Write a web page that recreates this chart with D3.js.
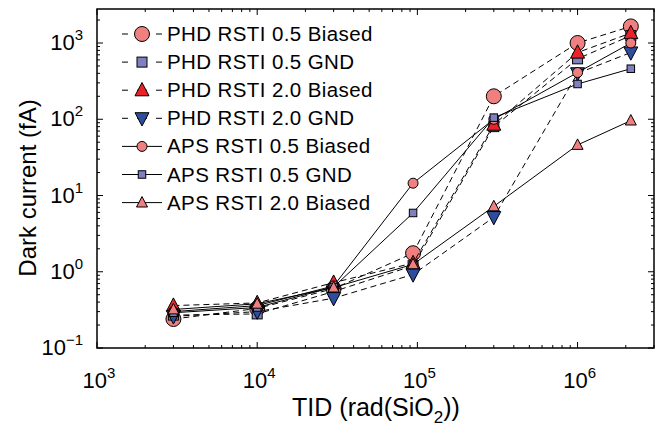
<!DOCTYPE html>
<html><head><meta charset="utf-8">
<script src="https://cdn.jsdelivr.net/npm/d3@7"></script>
<style>
body{margin:0;background:#fff;}
svg{display:block;font-family:"Liberation Sans",Arial,sans-serif;}
</style></head>
<body><svg id="c" width="667" height="426"></svg>
<script>
// ---- data ----
const dose = [3e3, 1e4, 3e4, 9.4e4, 3e5, 1e6, 2.15e6];
const phd05Biased = [0.24, 0.33, 0.60, 1.75, 200, 1000, 1650];
const phd05Gnd    = [0.27, 0.28, 0.55, 1.20, 80, 620, 1250];
const phd20Biased = [0.36, 0.39, 0.72, 1.30, 85, 750, 1350];
const phd20Gnd    = [0.26, 0.30, 0.45, 0.92, 5.2, 400, 750];
const aps05Biased = [0.30, 0.36, 0.65, 14.5, 100, 410, 1000];
const aps05Gnd    = [0.29, 0.34, 0.63, 5.9, 105, 290, 460];
const aps20Biased = [0.32, 0.38, 0.62, 1.25, 7.2, 46, 96];
const seriesNames = ["PHD RSTI 0.5 Biased","PHD RSTI 0.5 GND","PHD RSTI 2.0 Biased","PHD RSTI 2.0 GND",
  "APS RSTI 0.5 Biased","APS RSTI 0.5 GND","APS RSTI 2.0 Biased"];
const xTickExp = [3, 4, 5, 6];
const yTickExp = [-1, 0, 1, 2, 3];

// ---- styles ----
const coral = "#f08080", slate = "#7f80bf", red = "#e8232a", blue = "#2e4d9e";
const series = [
  {name: seriesNames[0], v: phd05Biased, shape: "circle", size: 7.5, fill: coral, dash: "6,4"},
  {name: seriesNames[1], v: phd05Gnd, shape: "square", size: 10, fill: slate, dash: "6,4"},
  {name: seriesNames[2], v: phd20Biased, shape: "up", size: 14, fill: red, dash: "6,4"},
  {name: seriesNames[3], v: phd20Gnd, shape: "down", size: 14, fill: blue, dash: "6,4"},
  {name: seriesNames[4], v: aps05Biased, shape: "circle", size: 5, fill: coral, dash: null},
  {name: seriesNames[5], v: aps05Gnd, shape: "square", size: 7.5, fill: slate, dash: null},
  {name: seriesNames[6], v: aps20Biased, shape: "up", size: 11, fill: coral, dash: null}
];

const svg = d3.select("#c");
const L = 97, R = 654, T = 9, B = 348;
const x = d3.scaleLog().domain([1e3, 3e6]).range([L, R]);
const y = d3.scaleLog().domain([0.1, Math.pow(10, 3 + 34/76.25)]).range([B, T]);

// minor / major ticks inside, on all four sides
const g = svg.append("g");
function minorVals(dom) {
  const out = [];
  for (let e = Math.floor(Math.log10(dom[0])); e <= Math.ceil(Math.log10(dom[1])); e++)
    for (let m = 1; m <= 9; m++) { const v = m * Math.pow(10, e); if (v >= dom[0] * 0.999 && v <= dom[1] * 1.001) out.push({v, major: m === 1}); }
  return out;
}
minorVals(x.domain()).forEach(t => {
  const px = x(t.v), len = t.major ? 6 : 3;
  g.append("line").attr("x1", px).attr("x2", px).attr("y1", B).attr("y2", B - len).attr("stroke", "#000");
  g.append("line").attr("x1", px).attr("x2", px).attr("y1", T).attr("y2", T + len).attr("stroke", "#000");
});
minorVals(y.domain()).forEach(t => {
  const py = y(t.v), len = t.major ? 6 : 3;
  g.append("line").attr("y1", py).attr("y2", py).attr("x1", L).attr("x2", L + len).attr("stroke", "#000");
  g.append("line").attr("y1", py).attr("y2", py).attr("x1", R).attr("x2", R - len).attr("stroke", "#000");
});

// tick labels
xTickExp.forEach(e => {
  const t = svg.append("text").attr("x", x(Math.pow(10, e)) + 2).attr("y", 388).attr("text-anchor", "middle")
    .attr("font-size", 22).attr("fill", "#000");
  t.append("tspan").text("10");
  t.append("tspan").attr("dy", -10).attr("font-size", 15).text(e);
});
yTickExp.forEach(e => {
  const t = svg.append("text").attr("x", 83).attr("y", y(Math.pow(10, e)) + 7).attr("text-anchor", "end")
    .attr("font-size", 22).attr("fill", "#000");
  t.append("tspan").text("10");
  t.append("tspan").attr("dy", -10).attr("font-size", 15).text(e === -1 ? "\u22121" : e);
});

// axis labels
const xl = svg.append("text").attr("x", 376).attr("y", 416).attr("text-anchor", "middle").attr("font-size", 25);
xl.append("tspan").text("TID (rad(SiO");
xl.append("tspan").attr("dy", 7).attr("font-size", 17).text("2");
xl.append("tspan").attr("dy", -7).text("))");
svg.append("text").attr("transform", "translate(36,188) rotate(-90)").attr("text-anchor", "middle")
  .attr("font-size", 24).text("Dark current (fA)");

// markers
function marker(sel, s, cx, cy) {
  const r = s.size;
  let m;
  if (s.shape === "circle") m = sel.append("circle").attr("cx", cx).attr("cy", cy).attr("r", r);
  else if (s.shape === "square") m = sel.append("rect").attr("x", cx - r/2).attr("y", cy - r/2).attr("width", r).attr("height", r);
  else if (s.shape === "up") m = sel.append("path").attr("d", `M${cx},${cy - r*0.55}L${cx + r/2},${cy + r*0.4}L${cx - r/2},${cy + r*0.4}Z`);
  else m = sel.append("path").attr("d", `M${cx},${cy + r*0.55}L${cx + r/2},${cy - r*0.4}L${cx - r/2},${cy - r*0.4}Z`);
  m.attr("fill", s.fill).attr("stroke", "#000").attr("stroke-width", 1);
}

const line = d3.line().x(d => x(d[0])).y(d => y(d[1]));
const plot = svg.append("g");
series.forEach(s => {
  const pts = dose.map((d, i) => [d, s.v[i]]);
  const sg = plot.append("g");
  sg.append("path").attr("d", line(pts)).attr("fill", "none").attr("stroke", "#000").attr("stroke-width", 1)
    .attr("stroke-dasharray", s.dash);
  pts.forEach(p => marker(sg, s, x(p[0]), y(p[1])));
});

// legend
const leg = svg.append("g");
series.forEach((s, i) => {
  const ly = 34 + i * 28.1;
  leg.append("line").attr("x1", 122).attr("x2", 162).attr("y1", ly).attr("y2", ly).attr("stroke", "#000")
    .attr("stroke-dasharray", s.dash ? "6,9,10,9,6" : null);
  marker(leg, s, 142, ly);
  leg.append("text").attr("x", 167).attr("y", ly + 7).attr("font-size", 20.5).attr("letter-spacing", 0.4).text(s.name);
});

// frame
svg.append("rect").attr("x", L).attr("y", T).attr("width", R - L).attr("height", B - T)
  .attr("fill", "none").attr("stroke", "#000").attr("stroke-width", 1.5);
</script></body></html>
